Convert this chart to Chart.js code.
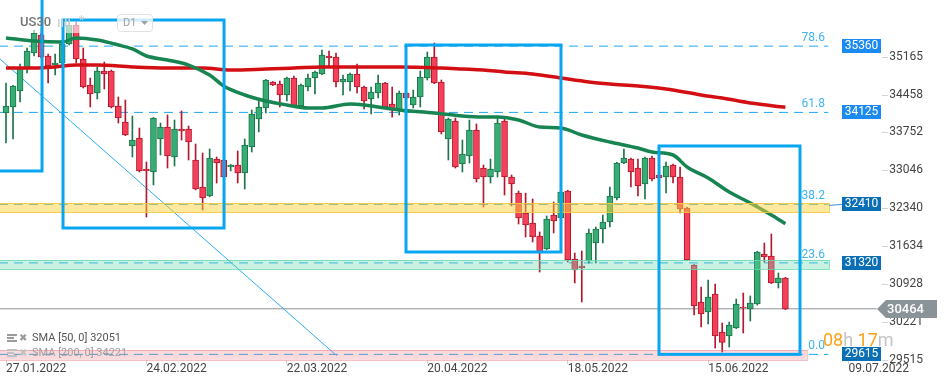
<!DOCTYPE html>
<html>
<head>
<meta charset="utf-8">
<title>US30 D1</title>
<script src="https://cdn.jsdelivr.net/npm/chart.js@4.4.1/dist/chart.umd.min.js"></script>
<style>
  html, body { margin: 0; padding: 0; background: #fff; }
  #wrap { width: 949px; height: 385px; }
</style>
</head>
<body>
<div id="wrap"><canvas id="chart" width="949" height="385"></canvas></div>
<script>
// daily candles (index 0 = 27.01.2022)
const open = [34114,34226,34524,34934,35232,35568,35176,35008,35046,35400,
  35754,35120,34636,34486,34897,34897,34244,33946,33499,33648,
  33070,33014,33629,33853,33294,33815,33815,33238,32734,32567,
  33256,33238,33107,33144,32995,33480,34002,34207,34692,34654,
  34449,34766,34244,34598,34766,34841,35176,35158,34692,34692,
  34841,34598,34375,34486,34673,34281,34170,34486,34263,34412,
  34766,35158,34692,33629,33964,33163,33312,33797,33088,32921,
  33014,33964,32921,32622,32250,32063,31821,31579,32212,32156,
  32660,31392,31262,31355,31690,31951,32082,32529,33182,33256,
  33088,32790,33275,32958,32921,33144,32921,32343,31280,30591,
  30404,30740,30032,29957,30106,30497,30460,30553,31485,31448,
  30945,31038];
const close = [34244,34617,34952,35269,35605,35158,34990,35046,35400,35754,
  35120,34598,34468,34897,34841,34226,34020,33704,33610,33033,
  33033,34020,33853,33312,33815,33778,33573,32697,32529,33275,
  33182,32921,33144,32995,33517,34095,34226,34729,34636,34449,
  34766,34244,34636,34766,34878,35195,35139,34692,34747,34841,
  34598,34337,34505,34673,34226,34170,34486,34393,34412,34785,
  35158,34673,33760,34002,33107,33349,33797,32884,32921,33070,
  33927,32921,32790,32156,32026,31802,31523,32138,32101,32641,
  31374,31187,31224,31877,31951,32082,32567,33182,33275,33014,
  32753,33275,32884,32902,33126,32921,32324,31374,30516,30367,
  30684,29957,29839,30162,30553,30479,30572,31523,31430,30945,
  31038,30464];
const high = [34673,34630,35027,35325,35661,35698,35213,35213,35474,35810,
  35810,35325,34766,34971,35064,34915,34412,34356,34058,33834,
  33200,34030,33927,34076,33983,34151,33871,33536,33368,33443,
  33294,33250,33155,33405,33629,34170,34356,34740,34700,34710,
  34785,34803,34654,34841,34897,35288,35269,35232,34822,34859,
  35027,34617,34598,34822,34685,34598,34524,34524,34542,34897,
  35251,35418,34729,34020,34020,33610,33983,33909,33144,33256,
  34058,34020,32958,32660,32622,32511,31896,32194,32455,32678,
  32675,31504,31541,31951,31989,32212,32734,33195,33443,33275,
  33256,33290,33312,32995,33200,33163,33107,32355,31290,30870,
  31001,30926,30199,30218,30647,30758,30703,31535,31690,31858,
  31131,31050];
const low = [33555,33629,34319,34859,35176,35139,34673,34822,34990,35381,
  35046,34580,34226,34375,34561,34207,33927,33690,33294,33014,
  32175,32772,33331,33088,33126,33610,33238,32680,32306,32550,
  32809,32905,33033,32809,32697,33387,33760,34114,34625,34226,
  34337,34235,34226,34524,34468,34830,34971,34598,34449,34524,
  34486,34188,34095,34393,34215,34039,34076,34356,34207,34226,
  34729,34660,33722,33238,33088,33014,33182,32828,32362,32809,
  32921,32585,32380,32045,31802,31709,31150,31565,31877,32119,
  31336,30945,30591,31317,31317,31690,31989,32492,33170,32734,
  32567,32511,32846,32865,32622,32809,32250,31360,30348,30125,
  30181,29733,29659,29752,30095,30013,30236,30534,31336,30935,
  30852,30450];

// moving averages, sampled along the curves
const sma50Idx = [0,4,8,10,13,16,18,20,23,26,29,31,34,37,40,43,45,49,51,53,56,61,65,68,70,73,76,79,82,86,90,92,95,97,100,103,106,109,111];
const sma50 = [35512,35456,35437,35512,35474,35381,35307,35176,35102,35008,34822,34617,34449,34337,34263,34207,34207,34281,34263,34226,34170,34114,34058,34039,34039,33983,33853,33834,33704,33573,33461,33387,33331,33107,32902,32641,32436,32212,32051];
const sma200Idx = [0,4,7,10,13,18,23,28,32,37,41,45,51,56,62,65,68,71,75,79,83,86,90,94,99,102,106,111];
const sma200 = [34952,34952,34971,35008,35008,34971,34952,34952,34915,34934,34952,34971,34971,34971,34952,34934,34915,34878,34841,34766,34692,34654,34617,34561,34449,34393,34300,34221];

const dateTicks = ['27.01.2022','24.02.2022','22.03.2022','20.04.2022','18.05.2022','15.06.2022','09.07.2022'];
const dateTickIdx = [0,20,40,60,80,100,120];
const priceTicks = [35165,34458,33752,33046,32340,31634,30928,30221,29515];

const fibLevels = [35360,34125,32410,31320,29615];
const fibNames = ['78.6','61.8','38.2','23.6','0.0'];
const lastPrice = 30464;

// zones: low, high, end index
const zoneLow = [32268,31206,29512];
const zoneHigh = [32436,31374,29696];
const zoneEnd = [117.2,117.2,114.1];

// rectangles drawn on the chart: [i0, i1, top, bottom]
const rects = [[-3,5.13,36500,33033],[8.12,31.05,35847,31970],[56.97,79.04,35381,31523],[93.0,113.08,33499,29615]];
// trend line
const trend = [[-2,35252],[47.1,29590]];

const UP = '#35ad74', UP_EDGE = '#1c7548', DN = '#f5405a', DN_EDGE = '#b3172d';
const up = close.map((c, i) => c >= open[i]);

const wicks = high.map((h, i) => ({x: i, y: [low[i], h]}));
const bodies = open.map((o, i) => ({x: i, y: [o, close[i]]}));

function hline(v, x1) { return [{x: -1, y: v}, {x: x1, y: v}]; }

const datasets = [
  {type: 'line', data: sma50Idx.map((x, k) => ({x, y: sma50[k]})), borderColor: '#178552', borderWidth: 3.5, pointRadius: 0, cubicInterpolationMode: 'monotone', order: 1},
  {type: 'line', data: sma200Idx.map((x, k) => ({x, y: sma200[k]})), borderColor: '#d30f14', borderWidth: 3.5, pointRadius: 0, cubicInterpolationMode: 'monotone', order: 2},
  {type: 'bar', data: bodies, grouped: false, barThickness: 6, borderWidth: 1, borderSkipped: false,
    backgroundColor: up.map(u => u ? UP : DN), borderColor: up.map(u => u ? UP_EDGE : DN_EDGE), order: 3},
  {type: 'bar', data: wicks, grouped: false, barThickness: 1, borderWidth: 0,
    backgroundColor: up.map(u => u ? UP_EDGE : DN_EDGE), order: 4},
  {type: 'line', data: trend.map(p => ({x: p[0], y: p[1]})), borderColor: '#29aef2', borderWidth: 1, pointRadius: 0, order: 8},
  {type: 'line', data: hline(lastPrice, 124), borderColor: '#8d9296', borderWidth: 1, pointRadius: 0, order: 9}
];
fibLevels.forEach(v => datasets.push({type: 'line', data: hline(v, 117.1), borderColor: '#1fa6f0', borderWidth: 1, borderDash: [9, 6], pointRadius: 0, order: 10}));

const overlay = {
  id: 'overlay',
  afterDatasetsDraw(chart) {
    const {ctx} = chart;
    const x = chart.scales.x, y = chart.scales.y;
    ctx.save();
    const fills = ['rgba(251,210,60,0.5)', 'rgba(101,218,175,0.35)', 'rgba(236,118,129,0.27)'];
    const edges = ['rgba(245,200,60,0.9)', 'rgba(101,218,175,0.8)', 'rgba(236,118,129,0.45)'];
    zoneLow.forEach((lo, k) => {
      const x0 = x.getPixelForValue(-1), x1 = x.getPixelForValue(zoneEnd[k]);
      const y0 = y.getPixelForValue(zoneHigh[k]), y1 = y.getPixelForValue(lo);
      ctx.fillStyle = fills[k];
      ctx.fillRect(x0, y0, x1 - x0, y1 - y0);
      ctx.strokeStyle = edges[k];
      ctx.lineWidth = 1;
      ctx.strokeRect(x0 + 0.5, Math.round(y0) + 0.5, x1 - x0, Math.round(y1 - y0));
    });
    // header veil
    ctx.fillStyle = 'rgba(255,255,255,0.6)';
    ctx.fillRect(0, 0, 160, 33);
    // rectangles
    ctx.strokeStyle = '#08a6f0';
    ctx.lineWidth = 3;
    rects.forEach(r => {
      const x0 = x.getPixelForValue(r[0]), x1 = x.getPixelForValue(r[1]);
      const y0 = y.getPixelForValue(r[2]), y1 = y.getPixelForValue(r[3]);
      ctx.strokeRect(x0, y0, x1 - x0, y1 - y0);
    });
    ctx.restore();
  },
  afterDraw(chart) {
    const {ctx} = chart;
    const x = chart.scales.x, y = chart.scales.y;
    ctx.save();
    // y tick marks
    ctx.strokeStyle = '#d5d5d5';
    ctx.lineWidth = 1;
    priceTicks.forEach(v => {
      const py = Math.round(y.getPixelForValue(v)) + 0.5;
      ctx.beginPath(); ctx.moveTo(882, py); ctx.lineTo(888, py); ctx.stroke();
    });
    // fib names and value boxes
    ctx.font = '12px Roboto';
    ctx.textBaseline = 'middle';
    fibLevels.forEach((v, k) => {
      const py = y.getPixelForValue(v);
      ctx.fillStyle = '#3db4f4';
      ctx.textAlign = 'right';
      ctx.fillText(fibNames[k], 825, py - 8);
      ctx.fillStyle = k < 2 ? '#1b8bf2' : '#0b6fb5';
      ctx.fillRect(842, Math.round(py) - 7, 39, 14);
      ctx.fillStyle = '#fff';
      ctx.textAlign = 'center';
      ctx.fillText(String(v), 861.5, Math.round(py));
    });
    // connector from the 38.2 zone to its label
    const pz = y.getPixelForValue(fibLevels[2]);
    ctx.strokeStyle = '#3a8fd0';
    ctx.beginPath(); ctx.moveTo(x.getPixelForValue(zoneEnd[0]), pz + 1); ctx.lineTo(842, pz); ctx.stroke();
    // last price arrow label
    const pl = Math.round(y.getPixelForValue(lastPrice));
    ctx.fillStyle = '#8a9398';
    ctx.beginPath();
    ctx.moveTo(877, pl); ctx.lineTo(886, pl - 9); ctx.lineTo(937, pl - 9); ctx.lineTo(937, pl + 9); ctx.lineTo(886, pl + 9);
    ctx.closePath(); ctx.fill();
    ctx.fillStyle = '#fff';
    ctx.font = '500 13px Roboto';
    ctx.textAlign = 'right';
    ctx.fillText(String(lastPrice), 924, pl + 0.5);
    // countdown
    ctx.font = '18px Roboto';
    ctx.textAlign = 'left';
    let cx = 823;
    [['08', '#ffa21a'], ['h ', '#c4c4c4'], ['17', '#ffa21a'], ['m', '#c4c4c4']].forEach(p => {
      ctx.fillStyle = p[1];
      ctx.fillText(p[0], cx, 341);
      cx += ctx.measureText(p[0]).width;
    });
    // indicator legend
    ctx.font = '11px Roboto';
    [['SMA [50, 0] 32051', 338, '#555', '#9a9a9a'], ['SMA [200, 0] 34221', 353, '#a0a0a0', '#c2c2c2']].forEach(r => {
      ctx.fillStyle = r[3];
      ctx.fillRect(7, r[1] - 4, 10, 2); ctx.fillRect(7, r[1] - 1, 7, 2); ctx.fillRect(7, r[1] + 2, 10, 2);
      ctx.font = 'bold 10px "DejaVu Sans"';
      ctx.fillText('\u2716', 19, r[1]);
      ctx.font = '11px Roboto';
      ctx.fillStyle = r[2];
      ctx.fillText(r[0], 32, r[1]);
    });
    // header
    ctx.font = '500 13px Roboto';
    ctx.fillStyle = '#727272';
    ctx.fillText('US30', 20, 23);
    ctx.fillStyle = '#cfcfcf';
    [58, 61.5, 65, 68.5].forEach(bx => ctx.fillRect(bx, 19, 1.5, 8));
    ctx.font = '12px Roboto';
    ctx.fillText('*', 79, 21);
    ctx.strokeStyle = '#e2e2e2';
    ctx.lineWidth = 1;
    ctx.beginPath();
    ctx.roundRect(117.5, 14.5, 35, 17, 3);
    ctx.fillStyle = 'rgba(255,255,255,0.8)';
    ctx.fill(); ctx.stroke();
    ctx.fillStyle = '#a0a0a0';
    ctx.font = '11px Roboto';
    ctx.fillText('D1', 123, 23.5);
    ctx.beginPath(); ctx.moveTo(141, 21); ctx.lineTo(148, 21); ctx.lineTo(144.5, 25); ctx.closePath(); ctx.fill();
    ctx.restore();
  }
};

new Chart(document.getElementById('chart'), {
  type: 'bar',
  data: {datasets},
  options: {
    responsive: false,
    animation: false,
    events: [],
    layout: {padding: 0, autoPadding: false},
    plugins: {legend: {display: false}, tooltip: {enabled: false}},
    scales: {
      x: {
        type: 'linear', min: -0.855, max: 134.3, offset: false,
        afterBuildTicks: s => { s.ticks = dateTickIdx.map(v => ({value: v})); },
        afterFit: s => { s.height = 25; },
        grid: {display: true, offset: false, drawOnChartArea: false, drawTicks: true, tickLength: 4, color: '#cfcfcf'},
        border: {display: false},
        ticks: {align: 'start', maxRotation: 0, autoSkip: false, padding: -2, color: '#444',
          font: {family: 'Roboto', size: 12}, callback: (v, i) => dateTicks[i]}
      },
      y: {
        type: 'linear', position: 'right', min: 29510, max: 36220,
        afterBuildTicks: s => { s.ticks = priceTicks.map(v => ({value: v})); },
        afterFit: s => { s.width = 0; },
        grid: {display: false, drawTicks: false},
        border: {display: false},
        ticks: {mirror: true, padding: -26, color: '#444', font: {family: 'Roboto', size: 12}, callback: v => String(v)}
      }
    }
  },
  plugins: [overlay]
});
</script>
</body>
</html>
